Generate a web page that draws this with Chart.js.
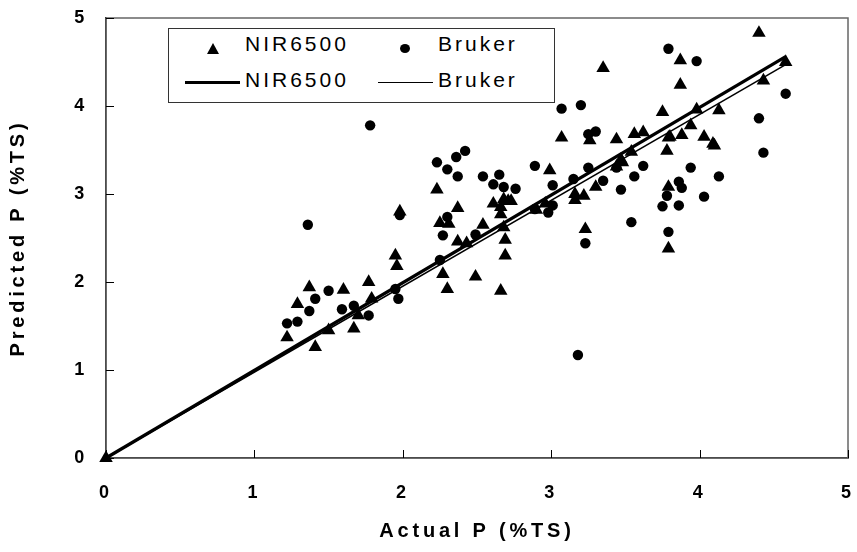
<!DOCTYPE html>
<html>
<head>
<meta charset="utf-8">
<script src="https://cdn.jsdelivr.net/npm/chart.js@4.4.1/dist/chart.umd.min.js"></script>
<style>
  html, body { margin: 0; padding: 0; background: #fff; }
  #wrap { position: relative; width: 857px; height: 552px; }
  #legend {
    position: absolute; left: 168px; top: 28px; width: 385px; height: 73px;
    border: 1px solid #333; background: #fff;
    font-family: "Liberation Sans", Arial, sans-serif; font-size: 21px;
    letter-spacing: 3px; color: #000;
  }
  .lbl { position: absolute; line-height: 24px; white-space: nowrap; }
  .tri { position: absolute; width: 0; height: 0;
    border-left: 6.5px solid transparent; border-right: 6.5px solid transparent;
    border-bottom: 11px solid #000; }
  .dot { position: absolute; width: 10px; height: 9px; border-radius: 50%; background: #000; }
  .ln { position: absolute; background: #000; }
</style>
</head>
<body>
<div id="wrap">
  <canvas id="chart" width="857" height="552"></canvas>
  <div id="legend">
    <div class="tri" style="left:37.5px; top:13.5px;"></div>
    <div class="lbl" style="left:76px; top:3px;">NIR6500</div>
    <div class="dot" style="left:231px; top:14.5px;"></div>
    <div class="lbl" style="left:269px; top:3px;">Bruker</div>
    <div class="ln" style="left:16px; top:51.5px; width:55px; height:3px;"></div>
    <div class="lbl" style="left:76px; top:39px;">NIR6500</div>
    <div class="ln" style="left:209px; top:52.5px; width:55px; height:1.5px;"></div>
    <div class="lbl" style="left:269px; top:39px;">Bruker</div>
  </div>
</div>
<script>
// values
const nirActual = [0, 1.22, 1.29, 1.37, 1.41, 1.50, 1.60, 1.67, 1.70, 1.77, 1.79, 1.95, 1.96, 1.98,
  2.23, 2.25, 2.27, 2.30, 2.31, 2.37, 2.37, 2.43, 2.49, 2.54, 2.61, 2.66, 2.66, 2.66, 2.68, 2.68,
  2.69, 2.69, 2.71, 2.73, 2.90, 2.96, 2.99, 3.07, 3.16, 3.16, 3.22, 3.23, 3.26, 3.30, 3.35, 3.44,
  3.44, 3.47, 3.48, 3.54, 3.56, 3.62, 3.75, 3.78, 3.79, 3.79, 3.79, 3.80, 3.87, 3.87, 3.88, 3.94,
  3.98, 4.03, 4.09, 4.10, 4.13, 4.40, 4.43, 4.58];
const nirPredicted = [0, 1.37, 1.75, 1.94, 1.26, 1.45, 1.91, 1.47, 1.62, 2.00, 1.81, 2.30, 2.18, 2.80,
  3.05, 2.67, 2.09, 1.92, 2.66, 2.84, 2.46, 2.44, 2.06, 2.65, 2.89, 2.85, 2.77, 1.90, 2.94, 2.62,
  2.48, 2.30, 2.92, 2.92, 2.82, 2.89, 3.27, 3.64, 2.93, 3.00, 2.98, 2.60, 3.61, 3.08, 4.43, 3.62,
  3.31, 3.39, 3.36, 3.48, 3.68, 3.70, 3.93, 3.49, 3.64, 3.08, 2.38, 3.65, 4.52, 4.24, 3.67, 3.78,
  3.96, 3.65, 3.57, 3.55, 3.95, 4.83, 4.29, 4.50];

const brukerActual = [1.22, 1.29, 1.36, 1.37, 1.41, 1.50, 1.59, 1.67, 1.77, 1.78, 1.95, 1.97, 1.98,
  2.23, 2.25, 2.27, 2.30, 2.30, 2.36, 2.37, 2.42, 2.49, 2.54, 2.61, 2.65, 2.68, 2.76, 2.89, 2.89,
  2.98, 3.01, 3.01, 3.07, 3.15, 3.18, 3.20, 3.23, 3.25, 3.25, 3.30, 3.35, 3.44, 3.47, 3.54, 3.56,
  3.62, 3.75, 3.78, 3.79, 3.79, 3.86, 3.88, 3.86, 3.94, 3.98, 4.03, 4.13, 4.40, 4.43, 4.58];
const brukerPredicted = [1.53, 1.55, 2.65, 1.67, 1.81, 1.90, 1.69, 1.73, 1.62, 3.78, 1.92, 1.81, 2.76,
  3.36, 2.25, 2.53, 2.74, 3.28, 3.42, 3.20, 3.49, 2.54, 3.20, 3.11, 3.22, 3.08, 3.06, 3.32, 2.83,
  2.79, 2.87, 3.10, 3.97, 3.17, 1.17, 4.01, 2.44, 3.30, 3.68, 3.71, 3.15, 3.30, 3.05, 2.68, 3.20,
  3.32, 2.86, 2.98, 2.57, 4.65, 3.14, 3.07, 2.87, 3.30, 4.51, 2.97, 3.20, 3.86, 3.47, 4.14];

// fitted lines (end points as seen on the chart)
const fitX = [0, 4.58];
const nirFitY = [0, 4.56];
const brukerFitY = [0, 4.47];

const axisMin = 0;
const axisMax = 5;

const toPoints = (xs, ys) => xs.map((x, i) => ({ x: x, y: ys[i] }));

const fontFamily = '"Liberation Sans", Arial, sans-serif';

// frame + inward tick marks
const framePlugin = {
  id: 'frame',
  beforeUpdate(chart) { chart.ctx.letterSpacing = '3.8px'; },
  beforeDraw(chart) {
    const c = chart.ctx;
    c.letterSpacing = '3.8px';
    c.save();
    c.fillStyle = '#fff';
    c.fillRect(0, 0, chart.width, chart.height);
    c.restore();
  },
  beforeDatasetsDraw(chart) {
    const { ctx: c, chartArea: a, scales } = chart;
    c.save();
    c.strokeStyle = '#666';
    c.lineWidth = 1.5;
    c.strokeRect(a.left, a.top, a.right - a.left, a.bottom - a.top);
    c.strokeStyle = '#000';
    c.lineWidth = 1;
    c.beginPath();
    scales.x.ticks.forEach(t => {
      const px = Math.round(scales.x.getPixelForValue(t.value)) + 0.5;
      c.moveTo(px, a.bottom);
      c.lineTo(px, a.bottom - 8);
    });
    scales.y.ticks.forEach(t => {
      const py = Math.round(scales.y.getPixelForValue(t.value)) + 0.5;
      c.moveTo(a.left, py);
      c.lineTo(a.left + 8, py);
    });
    c.stroke();
    c.restore();
  }
};

const tickFont = { family: fontFamily, size: 18, weight: 'bold' };
const titleFont = { family: fontFamily, size: 20, weight: 'bold' };

const ctx = document.getElementById('chart').getContext('2d');
const chart = new Chart(ctx, {
  type: 'scatter',
  data: {
    datasets: [
      {
        label: 'NIR6500 fit',
        data: toPoints(fitX, nirFitY),
        showLine: true,
        borderColor: '#000',
        borderWidth: 3.2,
        pointRadius: 0,
        clip: false
      },
      {
        label: 'Bruker fit',
        data: toPoints(fitX, brukerFitY),
        showLine: true,
        borderColor: '#000',
        borderWidth: 1.5,
        pointRadius: 0,
        clip: false
      },
      {
        label: 'NIR6500',
        data: toPoints(nirActual, nirPredicted),
        pointStyle: 'triangle',
        pointRadius: 7.8,
        backgroundColor: '#000',
        borderColor: '#000',
        borderWidth: 0,
        clip: false
      },
      {
        label: 'Bruker',
        data: toPoints(brukerActual, brukerPredicted),
        pointStyle: 'circle',
        pointRadius: 5.2,
        backgroundColor: '#000',
        borderColor: '#000',
        borderWidth: 0,
        clip: false
      }
    ]
  },
  options: {
    responsive: false,
    animation: false,
    devicePixelRatio: 1,
    layout: { padding: { top: 18, right: 9, left: 0, bottom: 0 }, autoPadding: false },
    plugins: {
      legend: { display: false },
      tooltip: { enabled: false }
    },
    scales: {
      x: {
        type: 'linear',
        min: axisMin,
        max: axisMax,
        ticks: { stepSize: 1, padding: 24, color: '#000', font: tickFont },
        grid: { display: false, drawTicks: false },
        border: { display: true, color: '#000', width: 1.5 },
        title: {
          display: true, text: 'Actual P (%TS)', color: '#000', font: titleFont,
          padding: { top: 0, bottom: 9 }
        },
        afterFit(scale) {
          scale.height = 94;
          scale.paddingLeft = 0;
          scale.paddingRight = 0;
        }
      },
      y: {
        type: 'linear',
        min: axisMin,
        max: axisMax,
        ticks: { stepSize: 1, padding: 18, color: '#000', font: tickFont },
        grid: { display: false, drawTicks: false },
        border: { display: true, color: '#000', width: 1.5 },
        title: {
          display: true, text: 'Predicted P (%TS)', color: '#000', font: titleFont,
          padding: { top: 6, bottom: 0 }
        },
        afterFit(scale) {
          scale.width = 106;
          scale.paddingTop = 0;
          scale.paddingBottom = 0;
        }
      }
    }
  },
  plugins: [framePlugin]
});
</script>
</body>
</html>
